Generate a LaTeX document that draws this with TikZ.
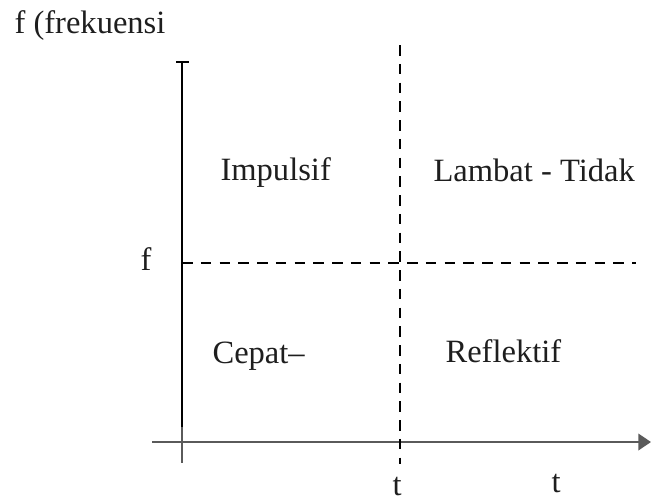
\documentclass[tikz,border=0pt]{standalone}
\usepackage{fontspec}
\setmainfont{Liberation Serif}
\usetikzlibrary{arrows.meta}

\definecolor{axisgray}{RGB}{90,90,90}
\definecolor{inkgray}{RGB}{30,30,30}

\begin{document}
\begin{tikzpicture}[x=0.012cm,y=-0.012cm,
    axisline/.style={line width=0.75pt},
    divider/.style={line width=0.85pt,dash pattern=on 3.6pt off 2.8pt},
    lbl/.style={font=\fontsize{11.1}{13}\selectfont,text=inkgray,inner sep=0pt,anchor=base west}]
  \useasboundingbox (0,0) rectangle (651,501);

  % axis end points
  \coordinate (ytop) at (182,62);
  \coordinate (ymid) at (182,427);
  \coordinate (ybot) at (182,463);
  \coordinate (xleft) at (152,442);
  \coordinate (xright) at (651,442);
  \coordinate (capl) at (176,62);
  \coordinate (capr) at (189,62);

  % dashed dividers
  \coordinate (vtop) at (400,45);
  \coordinate (vbot) at (400,464);
  \coordinate (hleft) at (182,263);
  \coordinate (hright) at (636,263);

  % axis labels
  \node[lbl] (ylabel) at (14,33) {f (frekuensi};
  \node[lbl] (flabel) at (140,270) {f};
  \node[lbl] (tmid) at (392,495) {t};
  \node[lbl] (tend) at (551,492) {t};

  % quadrant labels
  \node[lbl] (impulsif) at (220,180) {Impulsif};
  \node[lbl] (lambat) at (433,181) {Lambat - Tidak};
  \node[lbl] (cepat) at (212,363) {Cepat–};
  \node[lbl] (reflektif) at (445,362) {Reflektif};

  % axes
  \draw[axisline] (ytop) -- (ymid);
  \draw[axisline,axisgray] (ymid) -- (ybot);
  \draw[axisline] (capl) -- (capr);
  \draw[axisline,axisgray,-{Triangle[length=4.3pt,width=5.6pt]}] (xleft) -- (xright);

  % dividers
  \draw[divider] (vtop) -- (vbot);
  \draw[divider] (hleft) -- (hright);
\end{tikzpicture}
\end{document}
